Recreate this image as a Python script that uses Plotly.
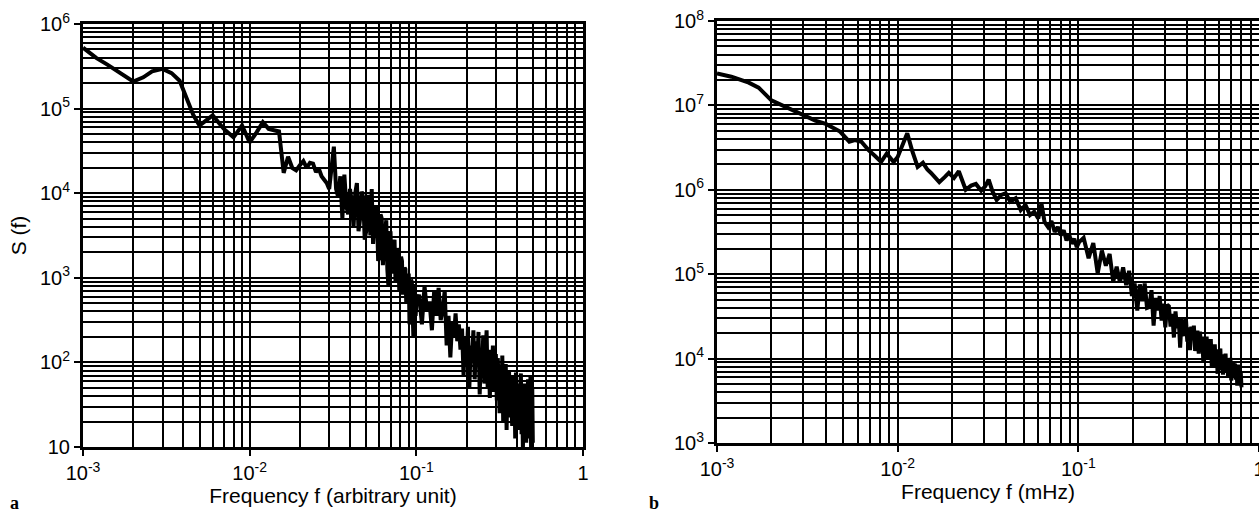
import plotly.graph_objects as go

# ---------------- Panel a data (frequency, log10 S) ----------------
f_a_low = [0.001, 0.0012, 0.0014, 0.0017, 0.002, 0.0023, 0.0026, 0.003, 0.0034, 0.0038,
           0.0042, 0.0046, 0.005, 0.006, 0.007, 0.008, 0.009, 0.010, 0.011, 0.012,
           0.013, 0.014, 0.015]
logS_a_low = [5.72, 5.60, 5.52, 5.41, 5.32, 5.37, 5.44, 5.47, 5.42, 5.33,
              5.12, 4.92, 4.80, 4.92, 4.76, 4.66, 4.80, 4.60, 4.72, 4.84,
              4.76, 4.75, 4.73]

f_a_mid = [0.016, 0.017, 0.018, 0.019, 0.020, 0.021, 0.022, 0.023, 0.024, 0.025,
           0.026, 0.027, 0.028, 0.029, 0.030, 0.031, 0.032, 0.033, 0.034, 0.035,
           0.036, 0.037, 0.038, 0.039, 0.040]
logS_a_mid = [4.24, 4.43, 4.30, 4.27, 4.33, 4.38, 4.30, 4.36, 4.35, 4.25,
              4.29, 4.20, 4.16, 4.12, 4.05, 4.30, 4.55, 4.05, 3.95, 4.20,
              3.70, 4.22, 3.85, 3.75, 4.05]

f_a_mid2 = [0.041, 0.042, 0.043, 0.044, 0.045, 0.046, 0.047, 0.048, 0.049, 0.050,
            0.051, 0.052, 0.053, 0.054, 0.055, 0.056, 0.057, 0.058, 0.059, 0.060,
            0.061, 0.062, 0.063, 0.064, 0.065, 0.066, 0.067, 0.068, 0.069, 0.070,
            0.071, 0.072, 0.073, 0.074, 0.075, 0.076, 0.077, 0.078, 0.079, 0.080,
            0.081, 0.082, 0.083, 0.084, 0.085, 0.086, 0.087, 0.088, 0.089, 0.090,
            0.091, 0.092, 0.093, 0.094, 0.095, 0.096, 0.097, 0.098, 0.099, 0.100]
logS_a_mid2 = [3.90, 3.60, 4.00, 4.12, 3.55, 3.70, 4.02, 3.95, 3.45, 3.55,
               3.98, 3.85, 3.50, 4.05, 3.40, 3.60, 3.85, 3.80, 3.20, 3.25,
               3.75, 3.70, 3.15, 3.40, 3.60, 3.68, 3.10, 2.90, 3.45, 3.55,
               3.05, 3.30, 3.40, 3.45, 2.95, 3.05, 3.35, 3.30, 2.85, 3.02,
               3.25, 3.20, 2.80, 2.95, 3.12, 3.10, 2.70, 2.85, 3.05, 3.05,
               2.45, 2.50, 2.98, 2.95, 2.60, 2.30, 2.92, 2.90, 2.55, 2.70]

f_a_high = [0.104, 0.108, 0.112, 0.116, 0.120, 0.124, 0.128, 0.132, 0.136, 0.140,
            0.144, 0.148, 0.152, 0.156, 0.160, 0.164, 0.168, 0.172, 0.176, 0.180,
            0.184, 0.188, 0.192, 0.196, 0.200, 0.204, 0.208, 0.212, 0.216, 0.220,
            0.224, 0.228, 0.232, 0.236, 0.240, 0.244, 0.248, 0.252, 0.256, 0.260,
            0.264, 0.268, 0.272, 0.276, 0.280, 0.284, 0.288, 0.292, 0.296, 0.300,
            0.304, 0.308, 0.312, 0.316, 0.320, 0.324, 0.328, 0.332, 0.336, 0.340,
            0.344, 0.348, 0.352, 0.356, 0.360, 0.364, 0.368, 0.372, 0.376, 0.380,
            0.384, 0.388, 0.392, 0.396, 0.400, 0.404, 0.408, 0.412, 0.416, 0.420,
            0.424, 0.428, 0.432, 0.436, 0.440, 0.444, 0.448, 0.452, 0.456, 0.460,
            0.464, 0.468, 0.472, 0.476, 0.480, 0.484, 0.488, 0.492, 0.496, 0.500]
logS_a_high = [2.80, 2.45, 2.90, 2.60, 2.72, 2.38, 2.85, 2.55, 2.88, 2.50,
               2.62, 2.85, 2.20, 2.55, 2.06, 2.48, 2.30, 2.58, 2.25, 2.45,
               2.15, 2.40, 1.85, 2.30, 1.95, 2.42, 1.70, 2.20, 2.05, 2.38,
               1.80, 2.25, 1.95, 2.36, 1.62, 2.10, 1.90, 2.32, 1.75, 2.05,
               2.38, 1.70, 2.15, 1.58, 2.00, 1.85, 2.20, 1.65, 1.95, 2.10,
               1.55, 2.05, 1.75, 1.40, 1.95, 1.60, 2.08, 1.30, 1.85, 1.70,
               1.98, 1.20, 1.75, 1.50, 1.90, 1.35, 1.80, 1.60, 1.25, 1.85,
               1.45, 1.70, 1.10, 1.88, 1.55, 1.30, 1.75, 1.20, 1.65, 1.40,
               1.87, 1.15, 1.60, 0.98, 1.50, 1.75, 1.25, 1.68, 1.05, 1.55,
               1.35, 1.80, 1.10, 1.62, 1.40, 1.83, 1.00, 1.45, 1.70, 1.05]

# ---------------- Panel b data (frequency, log10 S) ----------------
f_b_low = [0.001, 0.0012, 0.0015, 0.0017, 0.002, 0.0023, 0.0026, 0.003, 0.0035, 0.004,
           0.0045, 0.0048, 0.0054, 0.0058, 0.0063, 0.0069, 0.0075, 0.0081, 0.0087, 0.0095,
           0.0100, 0.0107, 0.0113, 0.0120, 0.0129, 0.0138, 0.0146, 0.0153, 0.0170, 0.0182,
           0.0192, 0.0205, 0.0218, 0.0238, 0.0255, 0.0271, 0.0290, 0.0305, 0.0319, 0.0335,
           0.0353, 0.0375, 0.0396]
logS_b_low = [7.38, 7.34, 7.27, 7.21, 7.06, 7.00, 6.95, 6.88, 6.82, 6.78,
              6.73, 6.69, 6.57, 6.59, 6.57, 6.47, 6.40, 6.33, 6.43, 6.33,
              6.39, 6.55, 6.67, 6.47, 6.27, 6.32, 6.24, 6.20, 6.09, 6.15,
              6.20, 6.14, 6.22, 6.00, 6.05, 6.07, 5.99, 6.04, 6.12, 5.98,
              5.88, 5.94, 5.96]

f_b_mid = [0.042, 0.045, 0.048, 0.051, 0.054, 0.057, 0.060, 0.0625, 0.065, 0.068,
           0.071, 0.074, 0.077, 0.080, 0.083, 0.086, 0.089, 0.092, 0.095, 0.098, 0.101]
logS_b_mid = [5.86, 5.90, 5.76, 5.82, 5.70, 5.74, 5.66, 5.84, 5.62, 5.56,
              5.63, 5.50, 5.56, 5.46, 5.52, 5.40, 5.47, 5.36, 5.42, 5.32, 5.38]

f_b_high = [0.107, 0.114, 0.121, 0.128, 0.135, 0.142, 0.149, 0.156, 0.163, 0.170,
            0.177, 0.184, 0.191, 0.198, 0.205, 0.212, 0.219, 0.226, 0.233, 0.240,
            0.247, 0.254, 0.261, 0.268, 0.275, 0.282, 0.289, 0.296, 0.303, 0.310,
            0.317, 0.324, 0.331, 0.338, 0.345, 0.352, 0.359, 0.366, 0.373, 0.380,
            0.387, 0.394, 0.401, 0.408, 0.415, 0.422, 0.429, 0.436, 0.443, 0.450,
            0.457, 0.464, 0.471, 0.478, 0.485, 0.492, 0.499, 0.506, 0.513, 0.520,
            0.527, 0.534, 0.541, 0.548, 0.555, 0.562, 0.569, 0.576, 0.583, 0.590,
            0.597, 0.604, 0.611, 0.618, 0.625, 0.632, 0.639, 0.646, 0.653, 0.660,
            0.667, 0.674, 0.681, 0.688, 0.695, 0.702, 0.709, 0.716, 0.723, 0.730,
            0.737, 0.744, 0.751, 0.758, 0.765, 0.772, 0.779, 0.786, 0.793, 0.800]
logS_b_high = [5.43, 5.19, 5.37, 5.01, 5.28, 5.10, 5.24, 4.91, 5.09, 4.90,
               5.08, 4.87, 5.04, 4.74, 4.89, 4.57, 4.88, 4.68, 4.89, 4.60,
               4.61, 4.81, 4.39, 4.72, 4.57, 4.74, 4.45, 4.65, 4.37, 4.64,
               4.62, 4.38, 4.53, 4.25, 4.56, 4.36, 4.49, 4.13, 4.47, 4.31,
               4.27, 4.47, 4.20, 4.37, 4.10, 4.38, 4.22, 4.39, 4.09, 4.31,
               4.31, 4.06, 4.32, 4.13, 4.26, 3.95, 4.26, 4.06, 4.26, 4.00,
               4.17, 4.00, 4.23, 3.90, 4.15, 4.01, 4.17, 3.91, 4.08, 3.82,
               4.11, 3.92, 4.12, 3.86, 4.03, 3.81, 4.05, 3.89, 4.06, 3.83,
               4.00, 3.78, 4.00, 3.85, 4.01, 3.74, 3.94, 3.78, 3.97, 3.78,
               3.94, 3.75, 3.91, 3.68, 3.93, 3.76, 3.88, 3.68, 3.83, 3.66]

# ---------------- Tick labels ----------------
x_tickvals = [0.001, 0.01, 0.1, 1]
x_ticktext = ["10<sup>-3</sup>", "10<sup>-2</sup>", "10<sup>-1</sup>", "1"]
ya_tickvals = [10, 100, 1e3, 1e4, 1e5, 1e6]
ya_ticktext = ["10", "10<sup>2</sup>", "10<sup>3</sup>", "10<sup>4</sup>", "10<sup>5</sup>", "10<sup>6</sup>"]
yb_tickvals = [1e3, 1e4, 1e5, 1e6, 1e7, 1e8]
yb_ticktext = ["10<sup>3</sup>", "10<sup>4</sup>", "10<sup>5</sup>", "10<sup>6</sup>", "10<sup>7</sup>", "10<sup>8</sup>"]

x_title_a = "Frequency f (arbitrary unit)"
x_title_b = "Frequency f (mHz)"
y_title_a = "S (f)"

FONT = "Liberation Sans, Arial, Helvetica, sans-serif"
SERIF = "Liberation Serif, Times New Roman, serif"
W, H = 1259, 513
TICK_SIZE = 20
TITLE_SIZE = 21
LINE_W = 4.0


def minor_vals(lo, hi):
    return [m * 10 ** k for k in range(lo, hi) for m in range(2, 10)]


def axis_common(tickvals, ticktext, minors):
    return dict(
        type="log", tickmode="array", tickvals=tickvals, ticktext=ticktext,
        ticks="outside", ticklen=6, tickwidth=2, tickcolor="black",
        showgrid=True, gridcolor="black", gridwidth=1.9,
        minor=dict(tickmode="array", tickvals=minors, showgrid=True,
                   gridcolor="black", gridwidth=1.9, ticks=""),
        showline=True, linecolor="black", linewidth=3, mirror=True,
        zeroline=False, automargin=False,
        tickfont=dict(family=FONT, size=TICK_SIZE, color="black"),
    )


f_a = f_a_low + f_a_mid + f_a_mid2 + f_a_high
S_a = [10 ** v for v in logS_a_low + logS_a_mid + logS_a_mid2 + logS_a_high]
f_b = f_b_low + f_b_mid + f_b_high
S_b = [10 ** v for v in logS_b_low + logS_b_mid + logS_b_high]

fig = go.Figure()
fig.add_trace(go.Scatter(x=f_a, y=S_a, mode="lines", xaxis="x", yaxis="y",
                         line=dict(color="black", width=LINE_W), showlegend=False))
fig.add_trace(go.Scatter(x=f_b, y=S_b, mode="lines", xaxis="x2", yaxis="y2",
                         line=dict(color="black", width=LINE_W), showlegend=False))

ML, MR, MT, MB = 83, 0, 21, 66
PW = W - ML - MR
PH = H - MT - MB


def xdom(x0, x1):
    return [(x0 - ML) / PW, (x1 - ML) / PW]


def ydom(ytop, ybot):
    return [(H - MB - ybot) / PH, (H - MB - ytop) / PH]


title_font = dict(family=FONT, size=TITLE_SIZE, color="black")
xa = axis_common(x_tickvals, x_ticktext, minor_vals(-3, 0))
xa.update(range=[-3, 0], domain=xdom(83, 583), anchor="y",
          title=dict(text=x_title_a, font=title_font, standoff=4))
xb = axis_common(x_tickvals, x_ticktext, minor_vals(-3, 0))
xb.update(range=[-3, 0], domain=xdom(717, 1259), anchor="y2",
          ticklabeloverflow="allow",
          title=dict(text=x_title_b, font=title_font, standoff=4))
ya = axis_common(ya_tickvals, ya_ticktext, minor_vals(1, 6))
ya.update(range=[1, 6], domain=ydom(24, 447), anchor="x",
          title=dict(text=y_title_a, font=title_font, standoff=8))
yb = axis_common(yb_tickvals, yb_ticktext, minor_vals(3, 8))
yb.update(range=[3, 8], domain=ydom(21, 443), anchor="x2")

fig.update_layout(
    width=W, height=H,
    margin=dict(l=ML, r=MR, t=MT, b=MB, pad=0),
    paper_bgcolor="white", plot_bgcolor="white",
    xaxis=xa, xaxis2=xb, yaxis=ya, yaxis2=yb,
    showlegend=False,
    annotations=[
        dict(text="<b>a</b>", xref="paper", yref="paper", showarrow=False,
             x=(14 - ML) / PW, y=(H - MB - 503) / PH, xanchor="center", yanchor="middle",
             font=dict(family=SERIF, size=18, color="black")),
        dict(text="<b>b</b>", xref="paper", yref="paper", showarrow=False,
             x=(654 - ML) / PW, y=(H - MB - 503) / PH, xanchor="center", yanchor="middle",
             font=dict(family=SERIF, size=18, color="black")),
    ],
)

fig.write_html("out.html", config={"displayModeBar": False},
               post_script="document.body.style.margin='0px';document.body.style.overflow='hidden';")
